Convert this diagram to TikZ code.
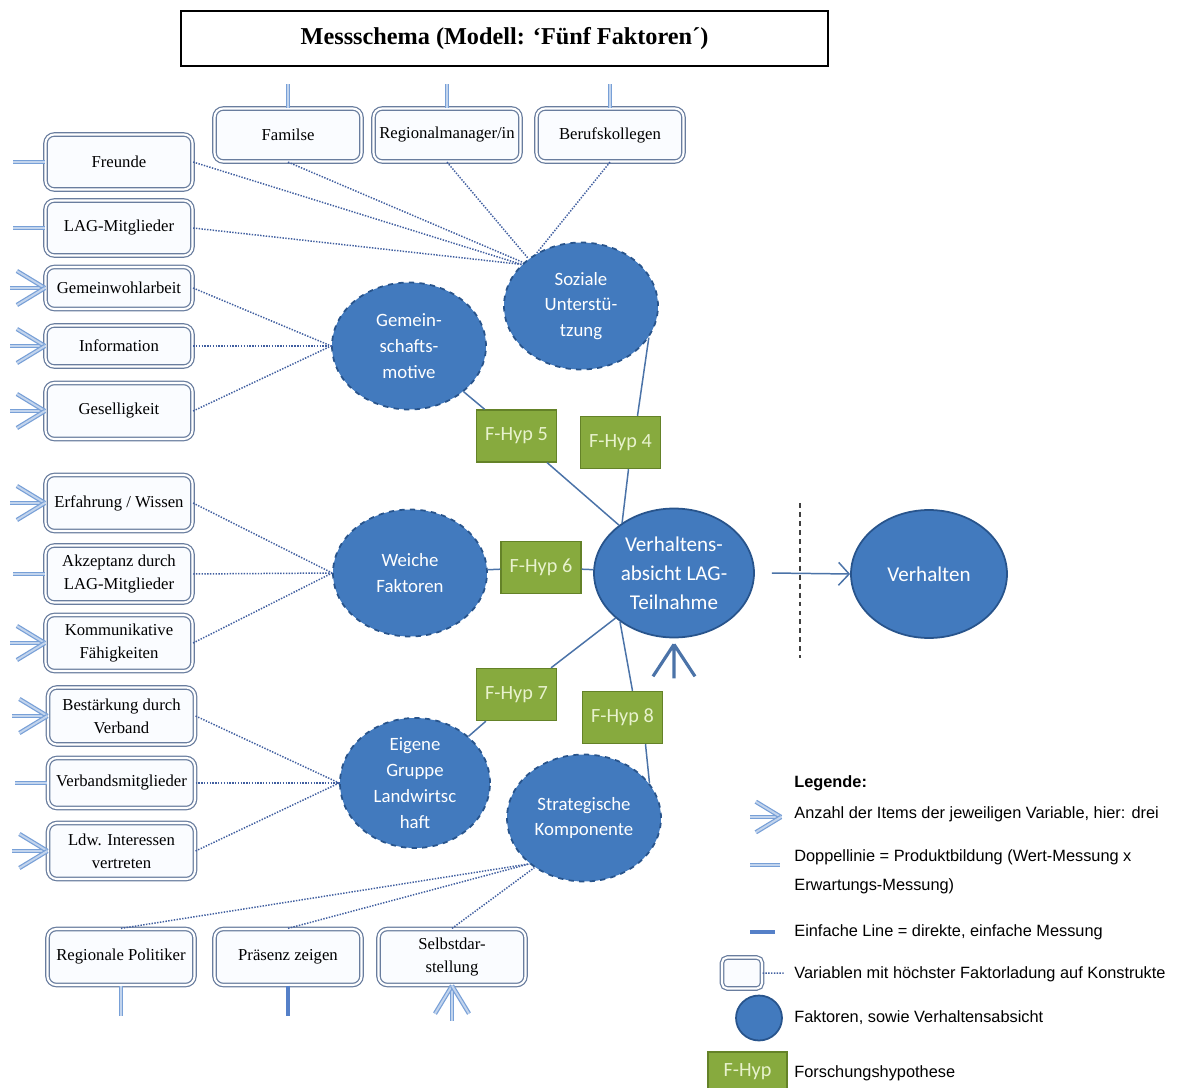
\documentclass[tikz,border=0pt]{standalone}
\usepackage{fontspec}
\setmainfont{Liberation Serif}
\newfontfamily\calibfont{Carlito}
\newfontfamily\arialfont{Liberation Sans}
\usepackage{tikz}
\usetikzlibrary{arrows.meta,shapes.geometric}
\definecolor{factorblue}{RGB}{66,122,190}
\definecolor{factorline}{RGB}{40,84,140}
\definecolor{hypgreen}{RGB}{135,170,62}
\definecolor{hypline}{RGB}{100,130,40}
\definecolor{hyptext}{RGB}{232,242,205}
\definecolor{varline}{RGB}{105,125,158}
\definecolor{varfill}{RGB}{250,252,255}
\definecolor{stemblue}{RGB}{120,160,215}
\definecolor{linkblue}{RGB}{75,115,168}
\definecolor{loadblue}{RGB}{65,95,160}
\definecolor{simpleblue}{RGB}{85,128,200}
\newcommand\varsize{\fontsize{9.5}{13}\selectfont}
\newcommand\legsize{\fontsize{9.3}{16.4}\selectfont}

\tikzset{
  items/.pic={
    \draw[dline] (0,0) -- (-35,0);
    \draw[dline] (0,0) -- (-28,-17);
    \draw[dline] (0,0) -- (-28,17);
  }
}

\begin{document}
\begin{tikzpicture}[x=0.02cm, y=-0.02cm,
    var/.style={draw=varline, double=white, double distance=1.2pt, line width=0.7pt,
      fill=varfill, rounded corners=5pt, align=center, font=\varsize,
      inner sep=1pt, minimum width=2.94cm},
    factor/.style={ellipse, draw=factorline, fill=factorblue, line width=1pt, dashed,
      text=white, align=center, inner sep=0pt, minimum width=3.08cm, minimum height=2.54cm,
      font=\calibfont\fontsize{10.7}{14.7}\selectfont},
    intent/.style={factor, solid, minimum width=3.2cm, minimum height=2.58cm,
      font=\calibfont\fontsize{12}{16.4}\selectfont},
    hyp/.style={draw=hypline, fill=hypgreen, line width=0.8pt, text=hyptext,
      minimum width=1.6cm, minimum height=1.04cm, inner sep=1pt,
      font=\calibfont\fontsize{11.5}{13}\selectfont},
    dline/.style={draw=stemblue, double=white!55!stemblue, double distance=1.1pt, line width=0.7pt},
    link/.style={draw=linkblue, line width=0.85pt},
    load/.style={draw=loadblue, line width=0.85pt, dash pattern=on 0.8pt off 0.8pt},
    legtxt/.style={anchor=west, inner sep=0pt, align=left, font=\arialfont\legsize}]
  \useasboundingbox (0,0) rectangle (1201,1088);

  % Title
  \node[draw=black, line width=1.2pt, minimum width=12.94cm, minimum height=1.1cm,
    font=\bfseries\fontsize{13.8}{16}\selectfont] (title) at (504.5,38.5)
    {Messschema (Modell: `Fünf Faktoren´)};

  % Top variables
  \foreach \nm/\xx/\txt in {familie/288/Familse, regio/447/{Regionalmanager/in},
      beruf/610/Berufskollegen} {
    \node[var, minimum height=1.06cm] (\nm) at (\xx,135) {\txt};
    \draw[dline] (\nm.north) -- ++(0,-24);
  }

  % Left variables (1 = three items, 2 = double line)
  \foreach \nm/\xx/\yy/\hh/\txt/\kind in {
      freunde/119/162/1.1/Freunde/2,
      lagm/119/228/1.1/LAG-Mitglieder/2,
      gemw/119/288/0.84/Gemeinwohlarbeit/1,
      info/119/346/0.82/Information/1,
      gesell/119/411/1.12/Geselligkeit/1,
      erfahr/119/503/1.12/{Erfahrung / Wissen}/1,
      akzept/119/574/1.14/{Akzeptanz durch\\LAG-Mitglieder}/2,
      kommun/119/643/1.12/{Kommunikative\\Fähigkeiten}/1,
      best/121.5/716/1.14/{Bestärkung durch\\Verband}/1,
      verbm/121.5/783/1.0/Verbandsmitglieder/2,
      ldw/121.5/851/1.12/{Ldw. Interessen\\vertreten}/1} {
    \node[var, minimum height=\hh cm] (\nm) at (\xx,\yy) {\txt};
    \ifnum\kind=1
      \pic at (\nm.west) {items};
    \else
      \draw[dline] (\nm.west) -- ++(-32,0);
    \fi
  }

  % Bottom variables
  \node[var, minimum height=1.12cm] (rp) at (121,957) {Regionale Politiker};
  \node[var, minimum height=1.12cm] (praes) at (288,957) {Präsenz zeigen};
  \node[var, minimum height=1.12cm] (selbst) at (452,957) {Selbstdar-\\stellung};
  \draw[dline] (rp.south) -- ++(0,30);
  \draw[simpleblue, line width=2pt] (praes.south) -- ++(0,30);
  \pic[rotate=90] at (selbst.south) {items};

  % Factors
  \node[factor] (soz) at (581,306) {Soziale\\Unterstü-\\tzung};
  \node[factor] (gem) at (409,346) {Gemein-\\schafts-\\motive};
  \node[factor] (weiche) at (410,573) {Weiche\\Faktoren};
  \node[factor, minimum width=3cm, minimum height=2.6cm] (eigene) at (415,783)
    {Eigene\\Gruppe\\Landwirtsc\\haft};
  \node[factor] (strat) at (584,818) {Strategische\\Komponente};
  \node[intent] (intent) at (674,573) {Verhaltens-\\absicht LAG-\\Teilnahme};
  \node[intent, minimum width=3.12cm, minimum height=2.56cm] (verh) at (929,574) {Verhalten};

  % Hypotheses
  \foreach \nm/\xx/\yy/\k in {hyp5/516.5/436/5, hyp4/620.5/442.5/4, hyp6/541/567.5/6,
      hyp7/516.5/694.5/7, hyp8/622.5/717.5/8}
    \node[hyp] (\nm) at (\xx,\yy) {F-Hyp \k};

  \draw[link] (gem) -- (hyp5) -- (intent);
  \draw[link] (soz.-25) -- ([xshift=0.34cm]hyp4.north);
  \draw[link] ([xshift=0.16cm]hyp4.south) -- (intent.136);
  \draw[link] (weiche) -- (hyp6) -- (intent);
  \draw[link] (eigene) -- (hyp7) -- (intent);
  \draw[link] (strat.28) -- ([xshift=0.46cm]hyp8.south);
  \draw[link] ([xshift=0.2cm]hyp8.north) -- (intent.222);

  % Items of the intention
  \draw[linkblue, line width=1.8pt] ([yshift=-0.12cm]intent.south) -- ++(0,34)
    ([yshift=-0.12cm]intent.south) -- ++(-21,32)
    ([yshift=-0.12cm]intent.south) -- ++(21,32);

  % Intention -> behaviour
  \draw[link, -{Straight Barb[length=6pt,width=13pt]}] ([xshift=0.34cm]intent.east) -- (verh.west);
  \draw[black!75, line width=0.9pt, dash pattern=on 2.8pt off 2.3pt] (800,503) -- (800,658);

  % Factor loadings
  \draw[load] (freunde.east) -- (soz.145);
  \draw[load] (lagm.east) -- (soz.145);
  \draw[load] (familie.south) -- (soz.143);
  \draw[load] (regio.south) -- (soz.138);
  \draw[load] (beruf.south) -- (soz.130);
  \foreach \nm in {gemw,info,gesell}
    \draw[load] (\nm.east) -- (gem.west);
  \foreach \nm in {erfahr,akzept,kommun}
    \draw[load] (\nm.east) -- (weiche.west);
  \foreach \nm in {best,verbm,ldw}
    \draw[load] (\nm.east) -- (eigene.west);
  \draw[load] (rp.north) -- (strat.220);
  \draw[load] (praes.north) -- (strat.220);
  \draw[load] (selbst.north) -- (strat.225);

  % Legend
  \node[legtxt, font=\arialfont\bfseries\legsize] (leghead) at (794,783) {Legende:};
  \node[legtxt] (leg1) at (794,814) {Anzahl der Items der jeweiligen Variable, hier: drei};
  \node[legtxt] (leg2) at (794,872) {Doppellinie = Produktbildung (Wert-Messung x\\Erwartungs-Messung)};
  \node[legtxt] (leg3) at (794,932) {Einfache Line = direkte, einfache Messung};
  \node[legtxt] (leg4) at (794,974) {Variablen mit höchster Faktorladung auf Konstrukte};
  \node[legtxt] (leg5) at (794,1018) {Faktoren, sowie Verhaltensabsicht};
  \node[legtxt] (leg6) at (794,1073) {Forschungshypothese};

  \pic[scale=0.9] at (781,817) {items};
  \draw[dline] (750,865) -- (780,865);
  \draw[simpleblue, line width=2.2pt] (750,932) -- (775,932);
  \node[var, minimum width=0.8cm, minimum height=0.62cm, rounded corners=3pt] (legvar) at (742,973) {};
  \draw[load, shorten >=0.2cm] (legvar) -- (leg4);
  \node[intent, minimum width=0.92cm, minimum height=0.9cm] (legfac) at (759,1018) {};
  \node[hyp, minimum width=1.58cm, minimum height=0.8cm] (leghyp) at (747.5,1072) {F-Hyp};
\end{tikzpicture}
\end{document}
